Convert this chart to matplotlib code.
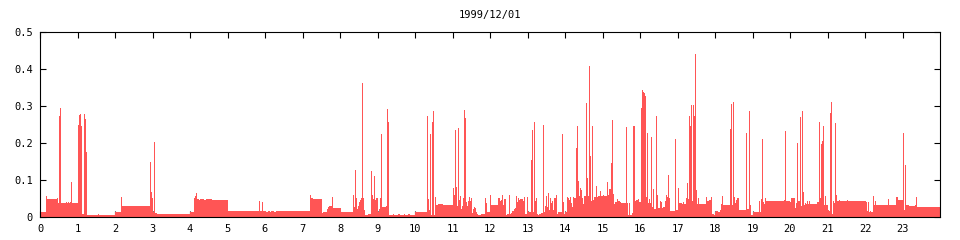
import numpy as np
import matplotlib
matplotlib.use("Agg")
import matplotlib.pyplot as plt

title = "1999/12/01"
bar_color = "#ff5555"

# start minute of each step and its level in four chunks
start_00_06 = [0, 10, 11, 27, 29, 30, 32, 34, 42, 43,
               45, 46, 48, 50, 51, 61, 62, 64, 66, 67,
               70, 72, 74, 75, 93, 94, 120, 130, 131, 176,
               178, 179, 181, 182, 184, 187, 240, 246, 248, 250,
               251, 254, 256, 262, 266, 275, 301, 350, 352, 355,
               357]
level_00_06 = [0.014, 0.057, 0.049, 0.052, 0.038, 0.273, 0.295, 0.038, 0.041, 0.038,
               0.041, 0.038, 0.041, 0.095, 0.038, 0.249, 0.276, 0.279, 0.246, 0.008,
               0.279, 0.265, 0.176, 0.006, 0.009, 0.006, 0.014, 0.054, 0.030, 0.149,
               0.068, 0.052, 0.014, 0.203, 0.012, 0.009, 0.014, 0.051, 0.057, 0.065,
               0.049, 0.046, 0.049, 0.046, 0.049, 0.046, 0.016, 0.043, 0.016, 0.040,
               0.016]

start_06_12 = [362, 365, 368, 370, 374, 378, 432, 434, 437, 451,
               453, 459, 461, 462, 467, 469, 482, 501, 502, 504,
               506, 507, 509, 510, 512, 514, 515, 517, 518, 520,
               525, 530, 531, 533, 534, 536, 538, 541, 542, 544,
               546, 547, 554, 555, 557, 558, 565, 566, 573, 576,
               582, 584, 589, 592, 600, 619, 621, 622, 624, 626,
               627, 629, 630, 632, 634, 637, 645, 661, 662, 664,
               666, 667, 669, 670, 672, 674, 675, 677, 678, 680,
               682, 683, 685, 686, 688, 690, 691, 693, 694, 696,
               698, 699, 701, 706, 712, 714, 715]
level_06_12 = [0.014, 0.016, 0.014, 0.016, 0.014, 0.016, 0.059, 0.051, 0.049, 0.011,
               0.014, 0.021, 0.027, 0.030, 0.054, 0.024, 0.0135, 0.059, 0.027, 0.127,
               0.051, 0.022, 0.030, 0.041, 0.046, 0.051, 0.362, 0.051, 0.019, 0.005,
               0.008, 0.124, 0.059, 0.049, 0.111, 0.046, 0.051, 0.014, 0.022, 0.051,
               0.224, 0.027, 0.030, 0.292, 0.257, 0.005, 0.008, 0.005, 0.008, 0.005,
               0.008, 0.005, 0.008, 0.005, 0.0135, 0.273, 0.049, 0.019, 0.224, 0.005,
               0.257, 0.287, 0.005, 0.054, 0.032, 0.035, 0.032, 0.078, 0.059, 0.235,
               0.081, 0.030, 0.240, 0.046, 0.057, 0.022, 0.030, 0.051, 0.289, 0.268,
               0.041, 0.030, 0.043, 0.054, 0.043, 0.051, 0.011, 0.022, 0.027, 0.024,
               0.0135, 0.008, 0.005, 0.008, 0.051, 0.038, 0.0135]

start_12_18 = [720, 722, 733, 736, 738, 739, 741, 742, 746, 747,
               750, 752, 754, 755, 758, 760, 762, 763, 765, 766,
               768, 773, 774, 776, 779, 781, 786, 787, 789, 790,
               792, 794, 795, 797, 798, 802, 805, 806, 808, 810,
               811, 813, 814, 816, 818, 819, 821, 822, 826, 827,
               829, 835, 837, 838, 840, 843, 845, 846, 848, 850,
               851, 853, 854, 858, 859, 861, 862, 864, 866, 867,
               869, 870, 874, 875, 877, 878, 880, 882, 883, 885,
               886, 890, 891, 893, 896, 898, 901, 902, 907, 909,
               910, 914, 915, 917, 918, 920, 923, 925, 928, 930,
               938, 939, 941, 942, 944, 947, 949, 952, 954, 957,
               958, 962, 963, 965, 966, 968, 970, 971, 973, 974,
               976, 978, 979, 981, 982, 986, 987, 989, 992, 994,
               995, 997, 1000, 1002, 1003, 1005, 1006, 1008, 1016, 1018,
               1021, 1022, 1027, 1029, 1030, 1034, 1035, 1037, 1038, 1040,
               1042, 1043, 1045, 1046, 1048, 1050, 1051, 1053, 1054, 1066,
               1067, 1070, 1074, 1075, 1078]
level_12_18 = [0.059, 0.032, 0.051, 0.043, 0.046, 0.059, 0.032, 0.049, 0.005, 0.008,
               0.059, 0.008, 0.011, 0.016, 0.022, 0.024, 0.057, 0.041, 0.051, 0.046,
               0.049, 0.043, 0.054, 0.008, 0.054, 0.0135, 0.154, 0.235, 0.0135, 0.257,
               0.043, 0.051, 0.008, 0.005, 0.008, 0.011, 0.249, 0.0135, 0.030, 0.057,
               0.027, 0.065, 0.019, 0.051, 0.038, 0.043, 0.019, 0.051, 0.059, 0.008,
               0.0135, 0.224, 0.041, 0.008, 0.0135, 0.054, 0.051, 0.046, 0.054, 0.038,
               0.027, 0.054, 0.051, 0.186, 0.246, 0.097, 0.057, 0.078, 0.073, 0.051,
               0.035, 0.057, 0.308, 0.105, 0.057, 0.408, 0.165, 0.043, 0.246, 0.046,
               0.054, 0.084, 0.054, 0.057, 0.070, 0.057, 0.059, 0.057, 0.095, 0.059,
               0.076, 0.146, 0.262, 0.062, 0.035, 0.041, 0.049, 0.043, 0.041, 0.038,
               0.243, 0.038, 0.005, 0.038, 0.005, 0.011, 0.246, 0.043, 0.046, 0.049,
               0.041, 0.295, 0.343, 0.338, 0.335, 0.327, 0.054, 0.227, 0.038, 0.049,
               0.038, 0.216, 0.027, 0.076, 0.022, 0.273, 0.059, 0.024, 0.043, 0.041,
               0.024, 0.027, 0.043, 0.059, 0.054, 0.114, 0.051, 0.016, 0.211, 0.019,
               0.078, 0.038, 0.035, 0.041, 0.035, 0.051, 0.092, 0.049, 0.273, 0.246,
               0.303, 0.043, 0.303, 0.273, 0.441, 0.073, 0.035, 0.051, 0.035, 0.054,
               0.043, 0.046, 0.054, 0.008, 0.005]

start_18_24 = [1080, 1082, 1085, 1088, 1090, 1091, 1093, 1104, 1106, 1107,
               1109, 1110, 1112, 1114, 1115, 1118, 1130, 1131, 1134, 1136,
               1138, 1141, 1150, 1152, 1154, 1155, 1157, 1158, 1160, 1162,
               1190, 1192, 1194, 1200, 1202, 1208, 1210, 1211, 1213, 1216,
               1218, 1219, 1221, 1222, 1224, 1226, 1227, 1229, 1230, 1232,
               1243, 1246, 1248, 1250, 1251, 1253, 1254, 1256, 1258, 1261,
               1262, 1264, 1266, 1267, 1269, 1270, 1272, 1274, 1275, 1278,
               1280, 1291, 1293, 1322, 1323, 1325, 1326, 1328, 1330, 1333,
               1334, 1336, 1338, 1357, 1358, 1370, 1373, 1381, 1382, 1384,
               1386, 1390, 1400, 1402, 1403]
level_18_24 = [0.0135, 0.016, 0.0135, 0.019, 0.035, 0.057, 0.032, 0.238, 0.305, 0.032,
               0.311, 0.054, 0.038, 0.046, 0.051, 0.019, 0.227, 0.022, 0.286, 0.032,
               0.005, 0.0135, 0.043, 0.0135, 0.049, 0.211, 0.041, 0.035, 0.051, 0.043,
               0.046, 0.232, 0.043, 0.041, 0.051, 0.024, 0.038, 0.200, 0.043, 0.270,
               0.030, 0.286, 0.068, 0.032, 0.038, 0.035, 0.043, 0.035, 0.043, 0.035,
               0.041, 0.257, 0.051, 0.197, 0.205, 0.246, 0.032, 0.057, 0.032, 0.019,
               0.016, 0.281, 0.311, 0.008, 0.043, 0.038, 0.254, 0.059, 0.043, 0.046,
               0.043, 0.046, 0.043, 0.041, 0.016, 0.041, 0.014, 0.016, 0.014, 0.057,
               0.032, 0.043, 0.032, 0.049, 0.032, 0.054, 0.046, 0.227, 0.019, 0.140,
               0.032, 0.030, 0.032, 0.054, 0.027]

day_end = 1440
x_ticks = list(range(24))
y_ticks = [0, 0.1, 0.2, 0.3, 0.4, 0.5]
y_labels = ["0", "0.1", "0.2", "0.3", "0.4", "0.5"]

starts = start_00_06 + start_06_12 + start_12_18 + start_18_24
levels = level_00_06 + level_06_12 + level_12_18 + level_18_24
edges = np.array(starts + [day_end]) / 60.0

plt.rcParams['font.family'] = ['DejaVu Sans Mono']

fig = plt.figure(figsize=(9.6, 2.4), dpi=100)
ax = fig.add_axes([40/960, 1 - 217/240, 900/960, 185/240])

ax.stairs(levels, edges, fill=True, color=bar_color, linewidth=0,
          antialiased=False, baseline=0)

ax.set_xlim(0, 24)
ax.set_ylim(0, 0.5)
ax.set_xticks(x_ticks)
ax.set_yticks(y_ticks)
ax.set_yticklabels(y_labels)
ax.set_axisbelow(True)
ax.tick_params(direction='in', length=4, width=0.8, top=True, right=True,
               labelsize=7.5, colors='black')
ax.tick_params(axis='x', pad=5)
ax.tick_params(axis='y', pad=5)
for s in ax.spines.values():
    s.set_linewidth(0.8)

fig.text(490/960, 1 - 15/240, title, ha='center', va='center', fontsize=7.5)

fig.savefig("out.png", dpi=100)
